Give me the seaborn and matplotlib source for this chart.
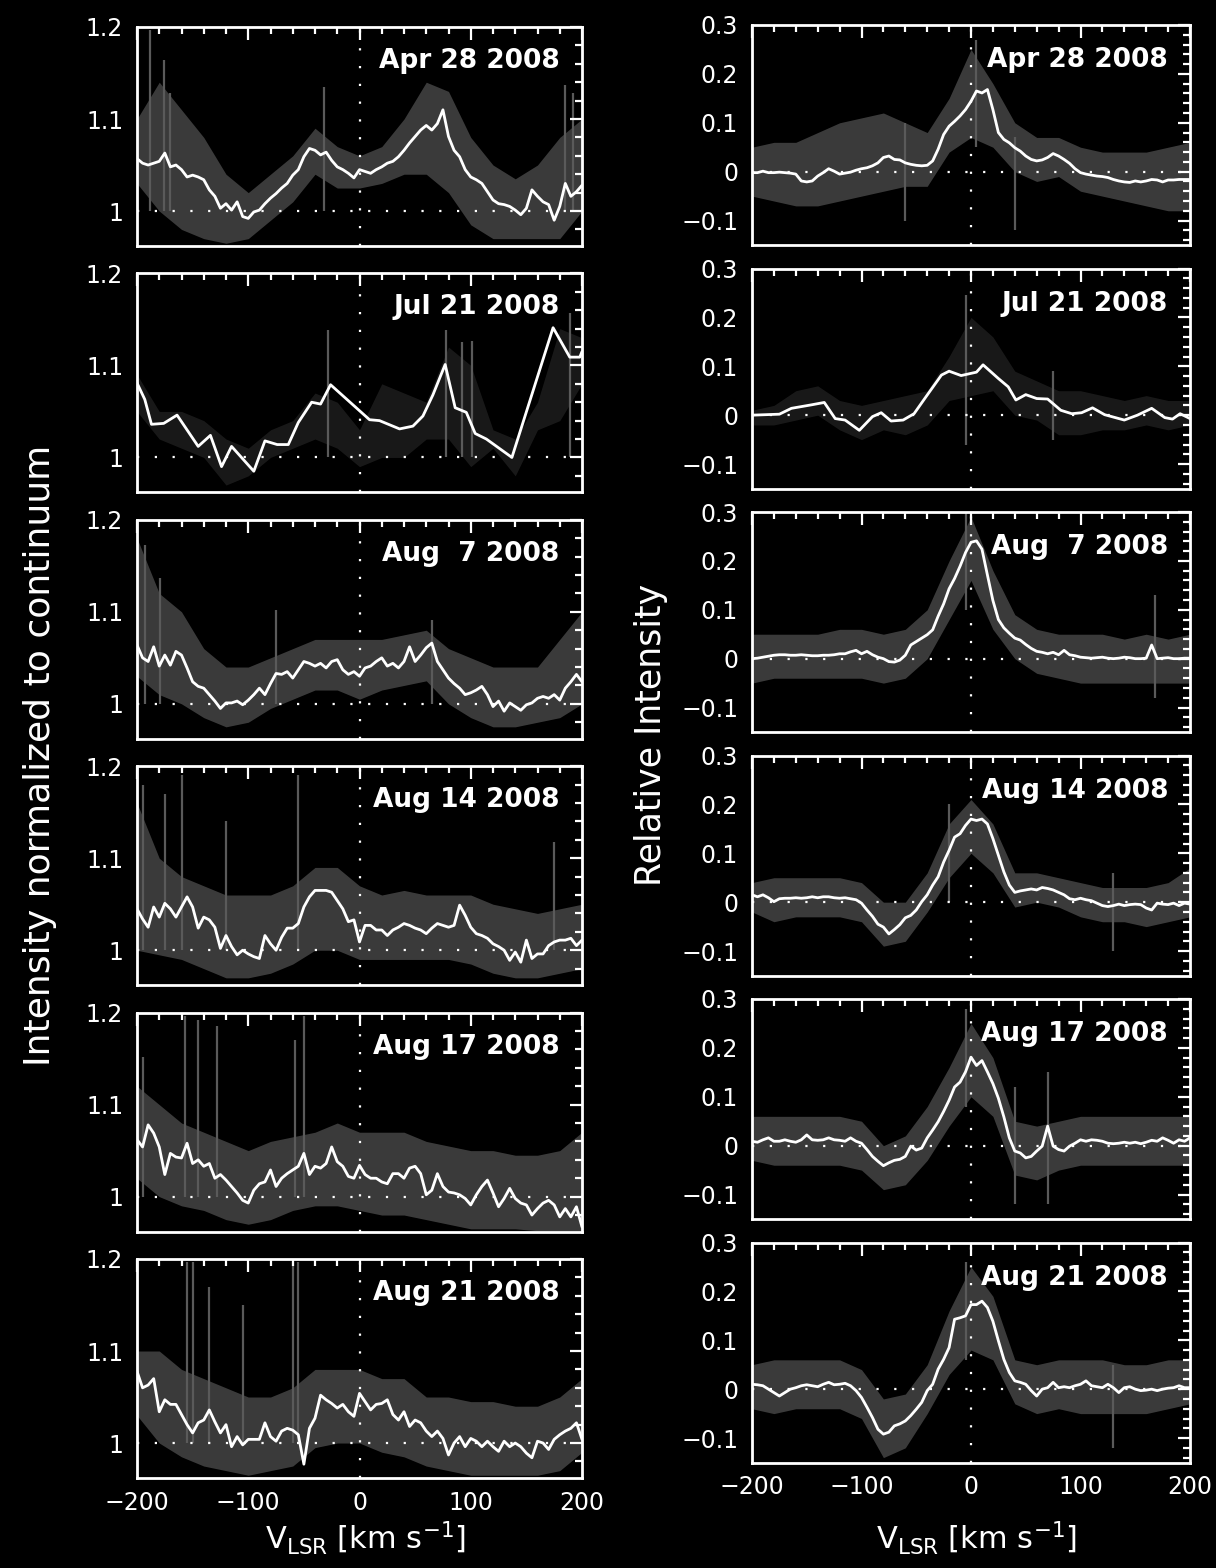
import numpy as np
import matplotlib
matplotlib.use("Agg")
import matplotlib.pyplot as plt
import seaborn as sns
from matplotlib.ticker import MultipleLocator

# ---------------- data ----------------
DATES = ["Apr 28 2008", "Jul 21 2008", "Aug  7 2008",
         "Aug 14 2008", "Aug 17 2008", "Aug 21 2008"]

VEL = np.arange(-200, 201, 5)          # 5 km/s sampling grid of the smoothed curves
VEL_GREY = np.arange(-200, 201, 20)    # sampling grid of the grey raw-data envelope

# ---- left column: intensity normalized to continuum (smoothed white curves)
L_APR28 = [1.057,1.052,1.050,1.052,1.054,1.063,1.048,1.050,1.045,1.037,
           1.039,1.037,1.034,1.023,1.016,1.003,1.008,1.001,1.010,0.994,
           0.992,0.999,1.001,1.008,1.014,1.019,1.025,1.030,1.039,1.045,
           1.059,1.068,1.066,1.061,1.064,1.055,1.048,1.045,1.041,1.036,
           1.045,1.043,1.041,1.045,1.048,1.052,1.054,1.059,1.066,1.074,
           1.081,1.088,1.093,1.088,1.095,1.110,1.081,1.066,1.059,1.045,
           1.037,1.034,1.030,1.021,1.012,1.008,1.007,1.005,1.001,0.996,
           1.003,1.023,1.016,1.010,1.007,0.990,1.005,1.030,1.016,1.021,1.028]
L_JUL21_V = [-200,-193,-187,-176,-164,-145,-134,-124,-115,-95,-85,-74,-64,-55,-43,-35,-26,
             9,18,36,48,57,66,77,86,96,104,114,137,174,189,198,200]
L_JUL21 = [1.081,1.063,1.036,1.037,1.046,1.012,1.024,0.990,1.012,0.985,1.018,1.014,1.014,
           1.038,1.060,1.058,1.079,1.041,1.040,1.031,1.034,1.045,1.068,1.101,1.054,1.049,
           1.026,1.020,1.000,1.141,1.109,1.109,1.115]
L_AUG07 = [1.064,1.050,1.046,1.062,1.041,1.053,1.042,1.057,1.053,1.039,
           1.024,1.019,1.017,1.010,1.003,0.995,1.001,1.001,1.003,0.999,
           1.004,1.010,1.017,1.010,1.022,1.033,1.032,1.035,1.028,1.037,
           1.046,1.044,1.041,1.044,1.039,1.046,1.048,1.037,1.032,1.035,
           1.030,1.039,1.041,1.046,1.050,1.041,1.044,1.039,1.046,1.062,
           1.046,1.053,1.061,1.066,1.046,1.037,1.028,1.022,1.017,1.010,
           1.012,1.015,1.019,1.010,0.997,1.003,0.992,1.001,0.997,0.993,
           0.999,1.001,1.006,1.008,1.006,1.010,1.004,1.017,1.024,1.032,1.024]
L_AUG14 = [1.045,1.034,1.025,1.047,1.036,1.051,1.045,1.036,1.047,1.058,
           1.047,1.024,1.036,1.033,1.025,1.002,1.016,1.004,0.995,1.000,
           0.996,0.993,0.991,1.016,1.007,1.000,1.014,1.024,1.024,1.029,
           1.047,1.058,1.065,1.065,1.065,1.063,1.054,1.045,1.031,1.033,
           1.009,1.027,1.027,1.022,1.022,1.016,1.022,1.025,1.029,1.027,
           1.024,1.022,1.018,1.024,1.029,1.027,1.025,1.027,1.049,1.038,
           1.025,1.018,1.016,1.013,1.007,1.004,1.000,0.989,0.998,0.987,
           1.011,0.991,0.996,0.996,1.005,1.009,1.011,1.011,1.013,1.005,1.011]
L_AUG17 = [1.062,1.054,1.078,1.069,1.054,1.024,1.047,1.043,1.042,1.058,
           1.036,1.040,1.033,1.036,1.020,1.024,1.018,1.011,1.004,0.996,
           0.993,1.007,1.014,1.016,1.029,1.011,1.020,1.025,1.029,1.033,
           1.047,1.024,1.033,1.031,1.036,1.054,1.038,1.033,1.022,1.020,
           1.034,1.024,1.020,1.020,1.016,1.014,1.025,1.025,1.020,1.031,
           1.033,1.025,1.002,1.007,1.025,1.011,1.005,1.004,1.002,0.998,
           0.991,1.002,1.011,1.018,1.004,0.989,0.998,1.009,0.998,0.993,
           0.991,0.980,0.987,0.993,0.996,0.991,0.978,0.987,0.978,0.989,0.967]
L_AUG21 = [1.078,1.060,1.063,1.070,1.034,1.047,1.042,1.042,1.031,1.020,
           1.011,1.022,1.025,1.036,1.023,1.011,1.020,0.996,1.007,0.998,
           1.004,1.004,1.004,1.022,1.007,1.002,1.013,1.016,1.014,1.009,
           0.977,1.016,1.027,1.052,1.047,1.043,1.038,1.042,1.034,1.029,
           1.054,1.045,1.036,1.042,1.043,1.047,1.031,1.025,1.034,1.018,
           1.025,1.022,1.013,1.007,1.013,1.005,0.987,1.000,1.007,0.996,
           1.005,1.002,0.996,1.002,0.996,0.991,1.002,0.996,1.000,0.996,
           0.989,0.984,1.002,1.000,0.993,1.004,1.009,1.013,1.016,1.022,1.004]

# grey raw-data envelope, left column (upper / lower)
LG_HI = [
    [1.10,1.14,1.11,1.08,1.04,1.02,1.04,1.06,1.09,1.07,1.06,1.07,1.10,1.14,1.13,1.08,1.05,1.035,1.05,1.08,1.10],
    [1.09,1.05,1.05,1.04,1.02,1.01,1.03,1.04,1.07,1.06,1.03,1.08,1.07,1.06,1.12,1.10,1.03,1.02,1.06,1.14,1.13],
    [1.18,1.12,1.10,1.06,1.04,1.04,1.05,1.06,1.07,1.07,1.07,1.07,1.075,1.08,1.06,1.05,1.04,1.04,1.04,1.07,1.10],
    [1.16,1.10,1.08,1.07,1.06,1.06,1.06,1.07,1.09,1.09,1.07,1.06,1.065,1.06,1.06,1.06,1.05,1.045,1.04,1.045,1.05],
    [1.12,1.10,1.08,1.07,1.06,1.05,1.06,1.065,1.07,1.08,1.07,1.07,1.07,1.06,1.055,1.05,1.05,1.045,1.045,1.05,1.07],
    [1.10,1.10,1.08,1.07,1.06,1.05,1.05,1.06,1.08,1.08,1.08,1.07,1.07,1.05,1.05,1.045,1.045,1.04,1.04,1.05,1.07]]
LG_LO = [
    [1.03,1.00,0.98,0.97,0.965,0.97,0.99,1.01,1.04,1.025,1.025,1.03,1.04,1.04,1.02,0.985,0.97,0.97,0.97,0.97,1.00],
    [1.05,1.02,1.01,1.00,0.97,0.98,1.00,1.01,1.02,1.01,0.99,1.00,1.00,1.02,1.02,0.99,1.01,0.98,1.03,1.04,1.08],
    [1.03,1.01,1.00,0.985,0.975,0.98,0.995,1.005,1.015,1.015,1.005,1.015,1.02,1.025,1.00,0.985,0.975,0.975,0.98,0.985,1.00],
    [1.00,0.995,0.99,0.98,0.97,0.97,0.975,0.985,1.00,1.00,0.99,0.99,0.99,0.99,0.99,0.985,0.975,0.97,0.97,0.975,0.98],
    [1.02,1.00,0.99,0.985,0.975,0.97,0.975,0.985,0.99,0.99,0.985,0.98,0.98,0.975,0.97,0.965,0.965,0.965,0.963,0.963,0.963],
    [1.03,1.00,0.985,0.975,0.97,0.965,0.97,0.975,0.995,1.00,1.00,0.99,0.985,0.975,0.97,0.965,0.965,0.965,0.965,0.97,0.99]]
# strong single grey spikes, left column
LS_X = [[-188,-176,-170,-32,185,192], [-28,78,92,101,189], [-193,-179,-75,65],
        [-195,-175,-160,-120,-55,175], [-195,-157,-145,-128,-58,-50],
        [-155,-150,-135,-105,-60,-55]]
LS_TOP = [[1.197,1.164,1.128,1.135,1.137,1.128], [1.138,1.138,1.125,1.127,1.157],
          [1.173,1.137,1.102,1.091], [1.18,1.17,1.19,1.14,1.19,1.118],
          [1.152,1.196,1.192,1.185,1.17,1.196], [1.197,1.197,1.17,1.15,1.197,1.197]]

# ---- right column: relative intensity (smoothed white curves)
R_APR28 = [-0.002,-0.002,0.001,-0.002,-0.002,-0.001,-0.002,-0.003,-0.005,-0.019,
           -0.021,-0.019,-0.009,-0.002,0.006,0.001,-0.005,-0.003,-0.001,0.003,
           0.006,0.008,0.012,0.018,0.029,0.032,0.025,0.024,0.018,0.015,
           0.013,0.012,0.013,0.022,0.046,0.076,0.093,0.103,0.114,0.127,
           0.144,0.165,0.161,0.168,0.127,0.080,0.066,0.059,0.049,0.042,
           0.032,0.025,0.022,0.024,0.029,0.037,0.032,0.025,0.017,0.006,
           -0.002,-0.005,-0.007,-0.009,-0.010,-0.012,-0.016,-0.019,-0.021,-0.022,
           -0.019,-0.021,-0.019,-0.016,-0.017,-0.021,-0.017,-0.017,-0.016,-0.016,-0.016]
R_JUL21_V = [-200,-175,-164,-146,-134,-124,-115,-102,-90,-82,-73,-62,-52,-41,-27,-20,-9,
             5,11,25,34,41,50,60,70,82,92,101,111,122,140,152,165,177,184,191,200]
R_JUL21 = [0.0,0.002,0.014,0.021,0.026,-0.007,-0.010,-0.031,-0.003,0.005,-0.012,-0.010,
           0.003,0.038,0.082,0.090,0.081,0.088,0.103,0.075,0.058,0.031,0.042,0.034,0.033,
           0.010,0.003,0.005,0.015,0.001,-0.010,0.0,0.014,-0.005,-0.008,0.003,-0.007]
R_AUG07 = [0.0,0.001,0.003,0.005,0.007,0.008,0.008,0.007,0.007,0.008,
           0.007,0.006,0.006,0.007,0.007,0.008,0.010,0.010,0.014,0.017,
           0.010,0.015,0.008,0.003,0.0,-0.006,-0.007,-0.003,0.007,0.028,
           0.035,0.042,0.049,0.059,0.087,0.112,0.143,0.164,0.189,0.217,
           0.238,0.241,0.224,0.171,0.119,0.080,0.063,0.052,0.042,0.038,
           0.029,0.021,0.015,0.013,0.010,0.013,0.008,0.017,0.008,0.006,
           0.003,0.002,0.001,0.002,0.003,0.001,0.0,0.001,0.003,0.002,
           0.0,0.0,0.001,0.028,0.0,0.001,0.002,0.0,0.0,0.001,0.001]
R_AUG14 = [0.015,0.011,0.015,0.009,0.001,0.007,0.008,0.008,0.009,0.008,
           0.009,0.011,0.009,0.011,0.011,0.009,0.008,0.009,0.007,0.005,
           -0.002,-0.016,-0.029,-0.045,-0.051,-0.065,-0.056,-0.046,-0.032,-0.027,
           -0.016,0.001,0.015,0.035,0.052,0.082,0.106,0.133,0.140,0.157,
           0.170,0.167,0.170,0.160,0.130,0.096,0.062,0.035,0.020,0.023,
           0.025,0.027,0.025,0.030,0.028,0.025,0.020,0.015,0.007,0.005,
           0.008,0.005,0.003,-0.002,-0.007,-0.009,-0.007,-0.004,-0.007,-0.005,
           -0.004,-0.005,-0.012,-0.016,-0.002,-0.004,-0.005,-0.002,-0.007,-0.002,-0.004]
R_AUG17 = [0.009,0.007,0.012,0.016,0.009,0.009,0.012,0.009,0.007,0.012,
           0.022,0.012,0.011,0.012,0.016,0.012,0.011,0.009,0.016,0.009,
           0.005,-0.008,-0.022,-0.032,-0.041,-0.035,-0.030,-0.028,-0.022,-0.001,
           -0.009,-0.005,0.016,0.032,0.049,0.070,0.093,0.120,0.130,0.151,
           0.181,0.164,0.174,0.151,0.127,0.097,0.059,0.016,-0.011,-0.015,
           -0.025,-0.022,-0.011,-0.001,0.040,-0.001,-0.008,-0.011,-0.001,0.005,
           0.012,0.009,0.012,0.011,0.009,0.005,0.004,0.005,0.007,0.005,
           0.007,0.004,0.007,0.011,0.009,0.016,0.011,0.005,0.012,0.009,0.016]
R_AUG21 = [0.010,0.009,0.007,0.0,-0.007,-0.014,-0.007,0.0,0.003,0.007,
           0.009,0.007,0.005,0.010,0.014,0.009,0.010,0.012,0.007,-0.003,
           -0.017,-0.037,-0.058,-0.082,-0.092,-0.088,-0.075,-0.071,-0.065,-0.054,
           -0.041,-0.027,-0.003,0.010,0.041,0.061,0.085,0.143,0.146,0.150,
           0.173,0.173,0.180,0.167,0.139,0.099,0.061,0.034,0.017,0.014,
           0.010,-0.003,-0.014,0.0,0.003,0.014,0.003,0.005,0.003,0.007,
           0.010,0.017,0.007,0.005,0.003,0.010,0.003,-0.007,0.003,0.005,
           0.0,-0.003,-0.002,0.0,-0.003,0.0,0.002,0.003,0.007,0.003,0.003]

RG_HI = [
    [0.05,0.06,0.06,0.08,0.10,0.11,0.12,0.10,0.08,0.15,0.25,0.18,0.10,0.07,0.07,0.05,0.04,0.04,0.04,0.05,0.06],
    [0.01,0.02,0.05,0.06,0.03,0.02,0.03,0.04,0.05,0.12,0.20,0.16,0.09,0.07,0.05,0.05,0.04,0.03,0.04,0.03,0.03],
    [0.05,0.05,0.05,0.05,0.06,0.06,0.05,0.06,0.10,0.20,0.29,0.18,0.09,0.06,0.05,0.05,0.05,0.04,0.05,0.04,0.05],
    [0.04,0.05,0.05,0.05,0.05,0.04,0.00,0.00,0.06,0.16,0.21,0.16,0.06,0.06,0.05,0.04,0.03,0.03,0.03,0.04,0.07],
    [0.06,0.06,0.06,0.06,0.06,0.05,0.00,0.02,0.08,0.16,0.25,0.18,0.05,0.04,0.05,0.06,0.06,0.06,0.06,0.06,0.06],
    [0.05,0.06,0.06,0.06,0.06,0.04,-0.02,-0.01,0.05,0.16,0.25,0.19,0.06,0.05,0.06,0.06,0.06,0.05,0.05,0.06,0.06]]
RG_LO = [
    [-0.05,-0.06,-0.07,-0.07,-0.06,-0.05,-0.04,-0.03,-0.03,0.04,0.07,0.05,0.00,-0.02,-0.01,-0.04,-0.05,-0.06,-0.07,-0.08,-0.08],
    [-0.02,-0.02,-0.01,0.00,-0.03,-0.05,-0.03,-0.04,-0.02,0.03,0.04,0.05,0.00,-0.01,-0.04,-0.04,-0.03,-0.03,-0.02,-0.03,-0.02],
    [-0.05,-0.04,-0.04,-0.04,-0.04,-0.04,-0.05,-0.04,0.00,0.08,0.16,0.06,0.00,-0.03,-0.04,-0.05,-0.05,-0.05,-0.05,-0.05,-0.05],
    [-0.02,-0.04,-0.03,-0.03,-0.03,-0.04,-0.09,-0.08,-0.02,0.05,0.10,0.06,-0.01,0.00,-0.01,-0.03,-0.04,-0.04,-0.05,-0.04,-0.03],
    [-0.03,-0.04,-0.04,-0.04,-0.04,-0.05,-0.09,-0.08,-0.03,0.04,0.10,0.06,-0.06,-0.07,-0.05,-0.04,-0.04,-0.04,-0.04,-0.04,-0.04],
    [-0.04,-0.05,-0.04,-0.04,-0.04,-0.06,-0.14,-0.12,-0.05,0.03,0.08,0.06,-0.03,-0.05,-0.04,-0.05,-0.05,-0.05,-0.05,-0.04,-0.03]]
RS_X = [[5, -60, 40], [-5, 75], [-5, 168], [-20, 130], [-5, 40, 70], [-5, 130]]
RS_LO = [[0.05, -0.10, -0.12], [-0.06, -0.05], [0.10, -0.08], [0.0, -0.10], [0.08, -0.12, -0.12], [0.06, -0.12]]
RS_TOP = [[0.27, 0.10, 0.07], [0.245, 0.09], [0.30, 0.13], [0.20, 0.06], [0.28, 0.12, 0.15], [0.26, 0.05]]

LEFT_Y = [L_APR28, L_JUL21, L_AUG07, L_AUG14, L_AUG17, L_AUG21]
LEFT_X = [VEL, L_JUL21_V, VEL, VEL, VEL, VEL]
RIGHT_Y = [R_APR28, R_JUL21, R_AUG07, R_AUG14, R_AUG17, R_AUG21]
RIGHT_X = [VEL, R_JUL21_V, VEL, VEL, VEL, VEL]

X_TICKS = [-200, -100, 0, 100, 200]
X_TICKLABELS = ["\u2212200", "\u2212100", "0", "100", "200"]
L_YTICKS = [1.0, 1.1, 1.2]
L_YTICKLABELS = ["1", "1.1", "1.2"]
R_YTICKS = [-0.1, 0.0, 0.1, 0.2, 0.3]
R_YTICKLABELS = ["\u22120.1", "0", "0.1", "0.2", "0.3"]

# ---------------- style ----------------
sns.set_theme(style="dark", rc={
    "figure.facecolor": "black", "axes.facecolor": "black",
    "axes.edgecolor": "white", "axes.linewidth": 2.0,
    "text.color": "white", "xtick.color": "white", "ytick.color": "white",
    "axes.labelcolor": "white", "axes.grid": False,
})
plt.rcParams["font.family"] = ["DejaVu Sans"]
plt.rcParams["mathtext.default"] = "regular"

W, H = 1216, 1568
fig = plt.figure(figsize=(W / 100, H / 100), dpi=100)
fig.patch.set_facecolor("black")


def px_axes(left, top, width, height):
    return fig.add_axes([left / W, 1 - (top + height) / H, width / W, height / H])


def style_axes(ax, yticks, yticklabels, bottom_labels, ref):
    ax.set_xlim(-200, 200)
    ax.axvline(0, color="white", lw=1.6, linestyle=(0, (1, 7)), zorder=1)
    ax.axhline(ref, color="white", lw=1.6, linestyle=(0, (1, 7)), zorder=1)
    ax.set_xticks(X_TICKS)
    ax.set_xticklabels(X_TICKLABELS if bottom_labels else [])
    ax.set_yticks(yticks)
    ax.set_yticklabels(yticklabels)
    ax.xaxis.set_minor_locator(MultipleLocator(20))
    ax.yaxis.set_minor_locator(MultipleLocator(0.02))
    ax.tick_params(which="both", direction="in", top=True, right=True,
                   color="white", width=1.6, labelsize=17, labelcolor="white")
    ax.tick_params(which="major", length=9)
    ax.tick_params(which="minor", length=5)
    ax.tick_params(axis="y", pad=10)
    ax.tick_params(axis="x", pad=9)
    for s in ax.spines.values():
        s.set_color("white")
        s.set_linewidth(2.0)
    ax.set_xlabel("")
    ax.set_ylabel("")


GREY = "#3e3e3e"
SPIKE = "#5a5a5a"

for i in range(6):
    alpha = 0.4 if i == 1 else 0.95
    # ---------- left column ----------
    ax = px_axes(137, 27 + i * 246.4, 445, 219)
    ax.fill_between(VEL_GREY, LG_LO[i], LG_HI[i], color=GREY, lw=0, alpha=alpha, zorder=0)
    ax.vlines(LS_X[i], 1.0, LS_TOP[i], color=SPIKE, lw=1.6, zorder=0)
    sns.lineplot(x=LEFT_X[i], y=LEFT_Y[i], ax=ax, color="white", lw=2.0,
                 estimator=None, sort=False, zorder=3)
    ax.set_ylim(0.962, 1.2)
    style_axes(ax, L_YTICKS, L_YTICKLABELS, i == 5, 1.0)
    ax.text(0.95, 0.845, DATES[i], transform=ax.transAxes, ha="right", va="center",
            fontsize=19, fontweight="bold", color="white", zorder=5)

    # ---------- right column ----------
    ax = px_axes(752, 25 + i * 243.5, 438, 220)
    ax.fill_between(VEL_GREY, RG_LO[i], RG_HI[i], color=GREY, lw=0, alpha=alpha, zorder=0)
    ax.vlines(RS_X[i], RS_LO[i], RS_TOP[i], color=SPIKE, lw=1.6, zorder=0)
    sns.lineplot(x=RIGHT_X[i], y=RIGHT_Y[i], ax=ax, color="white", lw=2.0,
                 estimator=None, sort=False, zorder=3)
    ax.set_ylim(-0.15, 0.3)
    style_axes(ax, R_YTICKS, R_YTICKLABELS, i == 5, 0.0)
    ax.text(0.95, 0.84, DATES[i], transform=ax.transAxes, ha="right", va="center",
            fontsize=19, fontweight="bold", color="white", zorder=5)

# axis titles
fig.text(40 / W, 1 - 755 / H, "Intensity normalized to continuum", rotation=90,
         ha="center", va="center", fontsize=26, color="white")
fig.text(651 / W, 1 - 735 / H, "Relative Intensity", rotation=90,
         ha="center", va="center", fontsize=25, color="white")
xlab = r"V$_{LSR}$ [km s$^{-1}$]"
fig.text(365 / W, 1 - 1538 / H, xlab, ha="center", va="center", fontsize=22, color="white")
fig.text(976 / W, 1 - 1538 / H, xlab, ha="center", va="center", fontsize=22, color="white")

fig.savefig("out.png", dpi=100, facecolor="black")
